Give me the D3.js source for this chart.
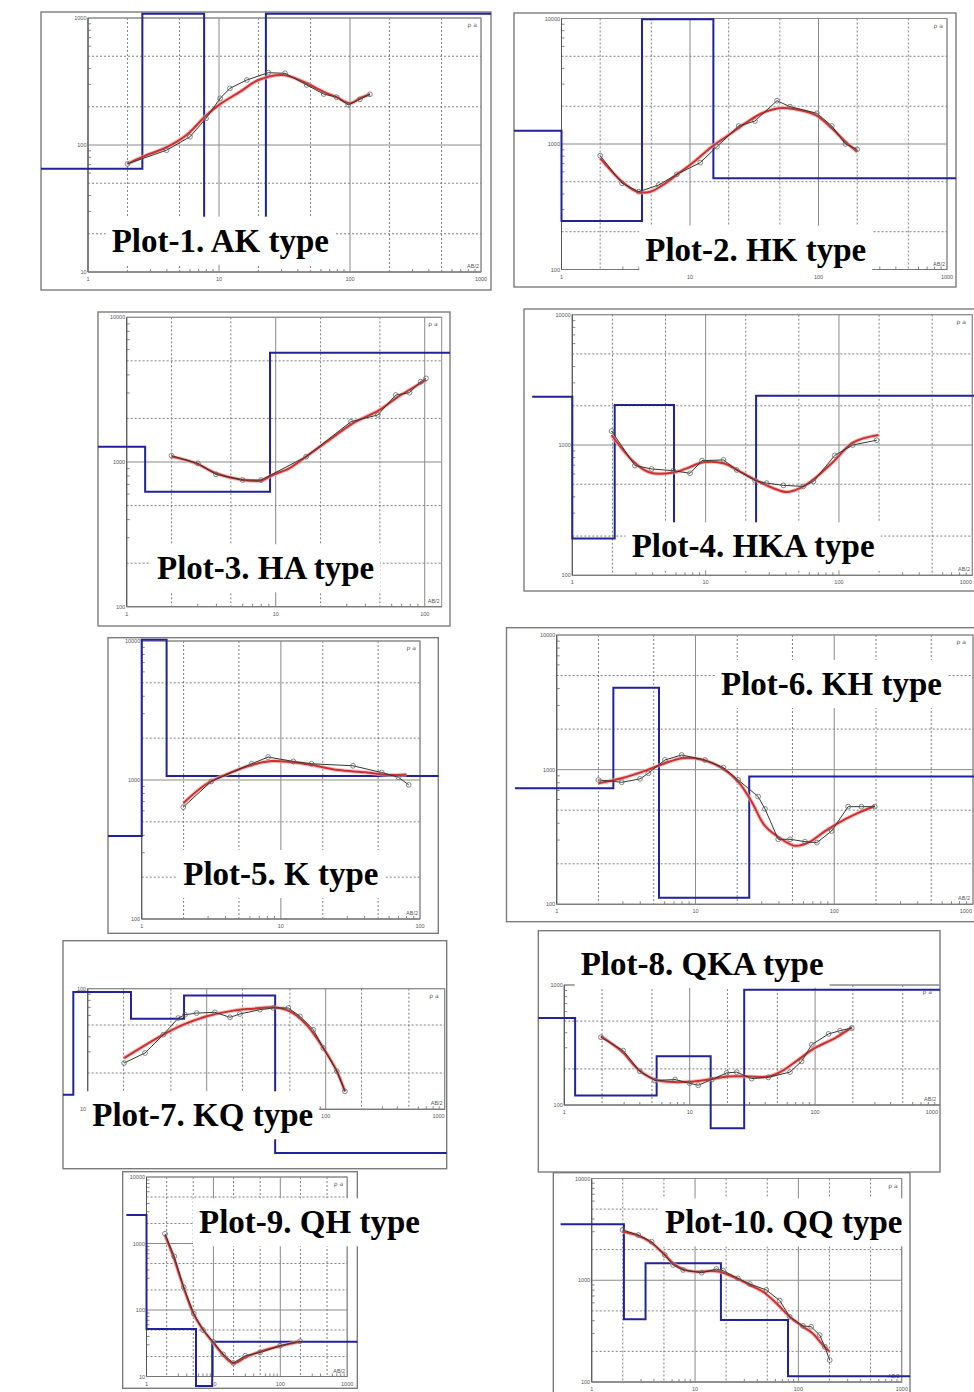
<!DOCTYPE html>
<html><head><meta charset="utf-8">
<script src="https://cdn.jsdelivr.net/npm/d3@7"></script>
<style>body{margin:0;background:#fff}svg{display:block}</style></head>
<body><svg id="c" width="974" height="1392"></svg>
<script>
// ---------------- DATA ----------------
const titles = ["Plot-1. AK type","Plot-2. HK type","Plot-3. HA type","Plot-4. HKA type","Plot-5. K type",
                "Plot-6. KH type","Plot-7. KQ type","Plot-8. QKA type","Plot-9. QH type","Plot-10. QQ type"];
const xDomains = [[1,1000],[1,1000],[1,130],[1,1000],[1,100],[1,1000],[1,1000],[1,1000],[1,1000],[1,1000]];
const yDomains = [[10,1000],[100,10000],[100,10000],[100,10000],[100,10000],[100,10000],[10,100],[100,1000],[10,10000],[100,10000]];
const xTickLabels = [[1,10,100,1000],[1,10,100,1000],[1,10,100],[1,10,100,1000],[1,10,100],[1,10,100,1000],[100,1000],[1,10,100,1000],[1,10,100,1000],[1,10,100,1000]];
const yTickLabels = [[10,100,1000],[100,1000,10000],[100,1000,10000],[100,1000,10000],[100,1000,10000],[100,1000,10000],[10,100],[100,1000],[10,100,1000,10000],[100,1000,10000]];

// layer model (blue step): AB/2 boundaries and resistivities
const p1Bounds=[0.3,2.6,7.7,22.8,3000],      p1Rho=[65,1080,25,1080];
const p2Bounds=[0.3,1.0,4.23,15.2,3000],     p2Rho=[1276,243,9850,533];
const p3Bounds=[0.5,1.33,9.16,3000],         p3Rho=[1276,624,5690];
const p4Bounds=[0.5,1.0,2.08,5.79,23.9,3000],p4Rho=[2350,192,2028,187,2390];
const p5Bounds=[0.5,1.0,1.51,300],           p5Rho=[395,10200,1069];
const p6Bounds=[0.5,2.56,5.46,24.4,3000],    p6Rho=[728,4060,112,889];
const p7Bounds=[0.3,0.757,2.31,6.45,37.6,3000],p7Rho=[13.2,94,56.4,88,4.35];
const p8Bounds=[0.5,1.22,5.45,14.7,27.2,3000],p8Rho=[531,120,255,64,914];
const p9Bounds=[0.5,1.0,5.5,9.6,3000],       p9Rho=[2680,51.8,7.2,33.4];
const p10Bounds=[0.5,2.05,3.32,17.8,79.4,3000],p10Rho=[3545,413,1466,406,114];

// fitted curve (red)
const p1FitX=[2,2.63,3.98,5.66,7.8,10,14.5,20,31,44,62.5,79,100,119,142];
const p1FitY=[71,81,96,120,167,207,263,325,356,315,263,238,213,233,251];
const p2FitX=[2,2.96,3.87,4.91,6.43,8.16,10.4,14.8,20,26.9,36.3,49,66,94.5,127,162,200];
const p2FitY=[769,501,417,417,486,584,702,952,1180,1462,1757,1925,1893,1703,1334,1042,869];
const p3FitX=[2,2.92,3.97,6,7.97,9.55,12.3,16,22.9,32.9,49.6,64,102];
const p3FitY=[1089,979,836,751,743,813,904,1089,1419,1849,2286,2754,3687];
const p4FitX=[1.97,2.88,3.83,5.73,7.21,9.6,13.6,18.1,24.2,32.2,40.6,51,64.3,90.8,128,198];
const p4FitY=[1194,745,614,614,662,736,724,625,533,466,435,466,543,745,1047,1194];
const p5FitX=[1.99,2.85,3.97,6.17,8.6,12,16.6,25.8,40.2,59,80];
const p5FitY=[680,920,1086,1282,1370,1340,1282,1180,1137,1086,1096];
const p6FitX=[2,2.94,4.33,6.03,7.95,9.9,12.4,15.4,20.3,25.4,31.7,41.8,52,65,86,119,149,196];
const p6FitY=[793,863,979,1117,1216,1216,1146,1035,815,578,382,304,272,287,350,427,478,537];
const p7FitX=[2.02,2.93,4.32,6.36,10,16.7,24.7,36.3,50,69,95.5,124,145];
const p7FitY=[26.6,33.3,41.6,50.3,59,65.8,68.3,70.2,65,50.3,32.2,20.7,14.1];
const p8FitX=[1.96,2.87,3.9,5.29,6.76,9.75,14.1,20.3,29.3,42.4,54,73.5,100,144,196];
const p8FitY=[373,280,197,163,156,156,163,173,173,173,191,239,299,361,444];
const p9FitX=[1.89,2.52,3.55,5.0,7.06,9.96,14.1,19.8,31.4,49.7,99,197];
const p9FitY=[1342,634,224,89,50,32.2,21,15.8,19.9,23.6,28.8,33.4];
const p10FitX=[1.99,2.72,3.66,4.92,6.14,7.67,10.3,13.9,17.4,25.2,33.9,45.5,61.3,82.4,111,138,167,201];
const p10FitY=[3000,2782,2392,1840,1466,1280,1213,1231,1213,1045,898,771,593,438,349,300,240,198];

// observed apparent resistivity (black with circles)
const p1ObsX=[2,3.98,6,7.96,10.2,12.1,16.3,23.8,31.9,46.7,63,79,97,119,142];
const p1ObsY=[71,91,116,162,233,279,325,371,367,297,252,238,207,229,251];
const p2ObsX=[2,2.96,3.99,5.7,7.9,12,16.2,23.9,32,47.5,60,97,127,162,200];
const p2ObsY=[807,486,417,471,574,710,952,1390,1524,2213,1983,1757,1390,1000,907];
const p3ObsX=[2,3,3.97,6,7.97,16,32,48.4,64,79,94,102];
const p3ObsY=[1106,979,822,751,751,1089,1900,2113,2904,3013,3589,3785];
const p4ObsX=[1.97,2.95,3.93,5.73,7.64,9.4,13.6,17.1,23.5,28.7,38.3,54,64.3,93,127,192];
const p4ObsY=[1280,695,655,635,607,759,768,643,533,510,490,481,525,832,1000,1089];
const p5ObsX=[1.99,3.16,6.17,8.1,12.3,16.6,33,53,70,83];
const p5ObsY=[638,977,1309,1462,1361,1309,1265,1132,1047,922];
const p6ObsX=[2,2.94,3.98,4.57,6.03,7.95,11.7,15.9,20.3,28.3,31.7,39.5,48,61.5,75,95.7,126,157,196];
const p6ObsY=[839,806,853,940,1180,1285,1180,1035,839,631,511,304,304,292,287,350,531,531,531];
const p7ObsX=[2.02,3.03,4.32,5.77,6.57,8.24,11.7,15.7,19,28,36.3,48.5,60.8,78.7,95.5,124,145];
const p7ObsY=[24.2,29.3,41.6,57.1,60.8,62.8,63.7,57.9,61.7,67,69.2,69.2,59,45.7,32.2,20.7,14.1];
const p8ObsX=[1.96,2.95,4,5.29,7.64,10,11.7,15,19.7,23.7,31.2,42.4,63,78,94,128,158,196];
const p8ObsY=[367,284,191,160,163,152,146,163,185,188,166,170,188,231,318,391,416,438];
const p9ObsX=[1.89,2.6,3.6,5.1,7.0,10,14,19.8,30,50,99,197];
const p9ObsY=[1400,640,220,88,50,33,21.5,16,20.5,23,29,34];
const p10ObsX=[1.99,2.82,3.8,5.1,6.14,7.67,11.6,16.1,18.7,26,33.9,49,66,82.4,111,133,161,180,201];
const p10ObsY=[3119,2782,2392,1770,1413,1262,1186,1288,1242,1045,920,802,631,438,356,349,289,222,164];

// ---------------- LAYOUT (positions only) ----------------
const layout = [
  {frame:[41,12,491,290],        xr:[88,481],      yr:[272,18],       tx:111.7, ty:251.7},
  {frame:[514,13,956,287],       xr:[561.5,947],   yr:[269.5,18.5],   tx:645.3, ty:260.7},
  {frame:[98,312,450,626],       xr:[126.7,441.7], yr:[606.7,317.3],  tx:157,   ty:579.3},
  {frame:[524,309,980,591],      xr:[572.3,972.3], yr:[575.3,314.7],  tx:631.7, ty:557.3},
  {frame:[108,637.7,438.3,933.3],xr:[141.7,420],   yr:[919,641],      tx:183.3, ty:885},
  {frame:[506.5,627.7,980,921.7],xr:[556.7,973],   yr:[904.3,635],    tx:721,   ty:695},
  {frame:[63,940.7,446.7,1168.7],xr:[87.7,444.7],  yr:[1109.3,988.7], tx:92.3,  ty:1126.3},
  {frame:[538.3,930.7,940,1172], xr:[564.3,940.5], yr:[1105,985],     tx:580.7, ty:974.7},
  {frame:[122.7,1171.7,357.3,1388.3],xr:[146.5,347.2],yr:[1376.5,1177],tx:199, ty:1233.3},
  {frame:[553.3,1172.7,910,1395],xr:[591.7,901.7], yr:[1382,1178.5],  tx:665,   ty:1233.3}
];
const models=[[p1Bounds,p1Rho],[p2Bounds,p2Rho],[p3Bounds,p3Rho],[p4Bounds,p4Rho],[p5Bounds,p5Rho],
              [p6Bounds,p6Rho],[p7Bounds,p7Rho],[p8Bounds,p8Rho],[p9Bounds,p9Rho],[p10Bounds,p10Rho]];
const fits=[[p1FitX,p1FitY],[p2FitX,p2FitY],[p3FitX,p3FitY],[p4FitX,p4FitY],[p5FitX,p5FitY],
            [p6FitX,p6FitY],[p7FitX,p7FitY],[p8FitX,p8FitY],[p9FitX,p9FitY],[p10FitX,p10FitY]];
const obss=[[p1ObsX,p1ObsY],[p2ObsX,p2ObsY],[p3ObsX,p3ObsY],[p4ObsX,p4ObsY],[p5ObsX,p5ObsY],
            [p6ObsX,p6ObsY],[p7ObsX,p7ObsY],[p8ObsX,p8ObsY],[p9ObsX,p9ObsY],[p10ObsX,p10ObsY]];

const svg=d3.select('#c');
const defs=svg.append('defs');
const titleLayer=[];

function logVals(d){
  const out=[];
  for(let k=Math.floor(Math.log10(d[0]));k<=Math.ceil(Math.log10(d[1]));k++){
    for(let m=1;m<10;m++){const v=m*Math.pow(10,k); if(v>=d[0]*0.999&&v<=d[1]*1.001) out.push({v,m});}
  }
  return out;
}

layout.forEach((L,i)=>{
  const [fx0,fy0,fx1,fy1]=L.frame;
  const x=d3.scaleLog().domain(xDomains[i]).range(L.xr);
  const y=d3.scaleLog().domain(yDomains[i]).range(L.yr);
  const px0=L.xr[0],px1=L.xr[1],py0=L.yr[1],py1=L.yr[0];
  const cid='clip'+i;
  defs.append('clipPath').attr('id',cid).append('rect')
    .attr('x',fx0).attr('y',fy0).attr('width',fx1-fx0).attr('height',fy1-fy0);
  const g=svg.append('g');
  g.append('rect').attr('x',fx0).attr('y',fy0).attr('width',fx1-fx0).attr('height',fy1-fy0)
    .attr('fill','#fff').attr('stroke','#7c7c7c').attr('stroke-width',1.4);
  const cg=g.append('g').attr('clip-path',`url(#${cid})`);

  // grid
  const xs=logVals(xDomains[i]), ys=logVals(yDomains[i]);
  xs.forEach(o=>{
    const X=x(o.v);
    if(o.m===1) cg.append('line').attr('x1',X).attr('x2',X).attr('y1',py0).attr('y2',py1).attr('stroke','#8a8a8a').attr('stroke-width',1);
    else if(o.m===2||o.m===5) cg.append('line').attr('x1',X).attr('x2',X).attr('y1',py0).attr('y2',py1).attr('stroke','#707070').attr('stroke-width',0.9).attr('stroke-dasharray','2,2');
    else cg.append('line').attr('x1',X).attr('x2',X).attr('y1',py1).attr('y2',py1-3).attr('stroke','#666').attr('stroke-width',0.8);
  });
  ys.forEach(o=>{
    const Y=y(o.v);
    if(o.m===1) cg.append('line').attr('x1',px0).attr('x2',px1).attr('y1',Y).attr('y2',Y).attr('stroke','#8a8a8a').attr('stroke-width',1);
    else if(o.m===2||o.m===5) cg.append('line').attr('x1',px0).attr('x2',px1).attr('y1',Y).attr('y2',Y).attr('stroke','#707070').attr('stroke-width',0.9).attr('stroke-dasharray','2,2');
    else cg.append('line').attr('x1',px0).attr('x2',px0+3).attr('y1',Y).attr('y2',Y).attr('stroke','#666').attr('stroke-width',0.8);
  });
  cg.append('rect').attr('x',px0).attr('y',py0).attr('width',px1-px0).attr('height',py1-py0)
    .attr('fill','none').attr('stroke','#8c8c8c').attr('stroke-width',1);
  cg.append('line').attr('x1',px0).attr('x2',px0).attr('y1',py0).attr('y2',py1).attr('stroke','#555').attr('stroke-width',1);
  cg.append('line').attr('x1',px0).attr('x2',px1).attr('y1',py1).attr('y2',py1).attr('stroke','#777').attr('stroke-width',1);

  // tick labels
  const rightLimit=Math.min(fx1,974)-2;
  yTickLabels[i].forEach(v=>{
    cg.append('text').attr('x',px0-1.5).attr('y',y(v)+2).attr('text-anchor','end')
      .attr('font-family','Liberation Sans, Arial').attr('font-size',5.5).attr('fill','#555').text(v);
  });
  xTickLabels[i].forEach(v=>{
    const X=x(v), nearEdge=X+7>rightLimit;
    cg.append('text').attr('x',nearEdge?rightLimit:X).attr('y',py1+9).attr('text-anchor',nearEdge?'end':'middle')
      .attr('font-family','Liberation Sans, Arial').attr('font-size',5.5).attr('fill','#555').text(v);
  });
  cg.append('text').attr('x',Math.min(px1-4,rightLimit-6)).attr('y',py0+9).attr('text-anchor','end')
    .attr('font-family','DejaVu Sans, Arial').attr('font-size',6).attr('fill','#555').text('ρ a');
  cg.append('text').attr('x',Math.min(px1-2,rightLimit-2)).attr('y',py1-4).attr('text-anchor','end')
    .attr('font-family','Liberation Sans, Arial').attr('font-size',5.5).attr('fill','#555').text('AB/2');

  // blue layer model
  const [b,r]=models[i];
  const pts=[];
  for(let k=0;k<r.length;k++){pts.push([b[k],r[k]]);pts.push([b[k+1],r[k]]);}
  const lineXY=d3.line().x(d=>x(d[0])).y(d=>y(d[1]));
  cg.append('path').attr('d',lineXY(pts)).attr('fill','none').attr('stroke','#22229a').attr('stroke-width',2);

  // red fit
  const fit=fits[i][0].map((v,k)=>[v,fits[i][1][k]]);
  const smooth=d3.line().x(d=>x(d[0])).y(d=>y(d[1])).curve(d3.curveCatmullRom.alpha(0.5));
  cg.append('path').attr('d',smooth(fit)).attr('fill','none').attr('stroke','#f0a8a8').attr('stroke-width',4).attr('opacity',0.7);
  cg.append('path').attr('d',smooth(fit)).attr('fill','none').attr('stroke','#cf2f2f').attr('stroke-width',2);

  // black observed
  const obs=obss[i][0].map((v,k)=>[v,obss[i][1][k]]);
  cg.append('path').attr('d',lineXY(obs)).attr('fill','none').attr('stroke','#2f3a33').attr('stroke-width',1);
  cg.selectAll('circle.o').data(obs).enter().append('circle')
    .attr('cx',d=>x(d[0])).attr('cy',d=>y(d[1])).attr('r',2.4)
    .attr('fill','none').attr('stroke','#666').attr('stroke-width',0.8);

  titleLayer.push({t:titles[i],x:L.tx,y:L.ty});
});

// titles with white boxes
const tg=svg.append('g');
titleLayer.forEach(o=>{
  const grp=tg.append('g');
  const rect=grp.append('rect').attr('fill','#fff');
  const t=grp.append('text').attr('x',o.x).attr('y',o.y)
    .attr('font-family','Liberation Serif, Times New Roman, serif').attr('font-weight','bold')
    .attr('font-size',33).attr('fill','#000').text(o.t);
  const bb=t.node().getBBox();
  rect.attr('x',bb.x-6).attr('y',bb.y-6).attr('width',bb.width+12).attr('height',bb.height+12);
});
</script>
</body></html>
